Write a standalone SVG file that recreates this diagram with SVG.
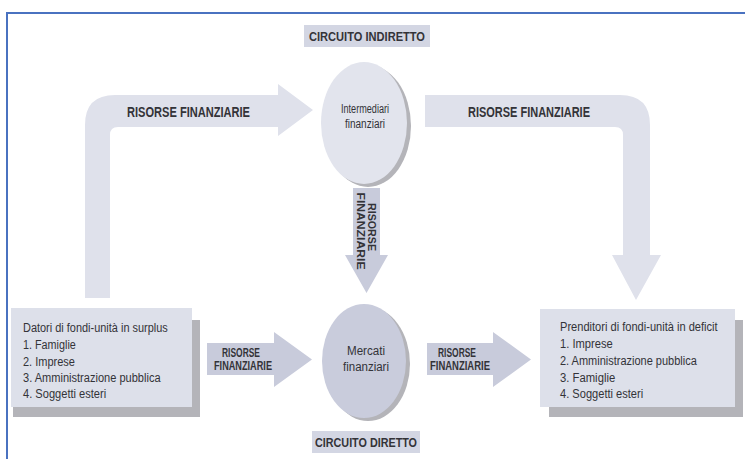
<svg xmlns="http://www.w3.org/2000/svg" width="745" height="459" viewBox="0 0 745 459">
<style>
.bg{fill:#ffffff}
.frame{fill:none;stroke:#4a72c0;stroke-width:2}
.loop{fill:#dfe1eb}
.mid{fill:#c8cbdb}
.box{fill:#dde0ea}
.shadow{fill:#b4b4b9}
.lbl{fill:#d3d6e3}
.t{font-family:"Liberation Sans Narrow","Liberation Sans",Arial,sans-serif;fill:#333338}
.b{font-weight:bold}
</style>
<rect class="bg" x="0" y="0" width="745" height="459"/>
<path class="frame" d="M7,459 V13 H745"/>

<g id="connectors">
  <g id="loop-left">
    <path class="loop" d="M85,298 V125 Q85,95 115,95 H278 V84 L313,110 L278,136 V127 H118 Q110,127 110,135 V298 Z"/>
    <text class="t b" x="127" y="117" font-size="14" textLength="123" lengthAdjust="spacingAndGlyphs">RISORSE FINANZIARIE</text>
  </g>
  <g id="loop-right">
    <path class="loop" d="M425,95 H620 Q650,95 650,125 V255 H661 L636,300 L612,255 H623 V135 Q623,127 615,127 H425 Z"/>
    <text class="t b" x="468" y="117" font-size="14" textLength="122" lengthAdjust="spacingAndGlyphs">RISORSE FINANZIARIE</text>
  </g>
  <g id="arrow-down">
    <path class="mid" d="M353,188 H380 V255 H388 L366.5,293 L345,255 H353 Z"/>
    <text class="t b" font-size="11" text-anchor="middle" transform="translate(368,227) rotate(90)" textLength="48" lengthAdjust="spacingAndGlyphs">RISORSE</text>
    <text class="t b" font-size="11" text-anchor="middle" transform="translate(357,231) rotate(90)" textLength="77" lengthAdjust="spacingAndGlyphs">FINANZIARIE</text>
  </g>
  <g id="arrow-left-mid">
    <path class="mid" d="M207,343 H274 V332 L312,359.5 L274,387 V375 H207 Z"/>
    <text class="t b" x="241" y="357" font-size="12" text-anchor="middle" textLength="38" lengthAdjust="spacingAndGlyphs">RISORSE</text>
    <text class="t b" x="243" y="370" font-size="12" text-anchor="middle" textLength="58" lengthAdjust="spacingAndGlyphs">FINANZIARIE</text>
  </g>
  <g id="arrow-right-mid">
    <path class="mid" d="M427,343 H493 V332 L531,359.5 L493,387 V375 H427 Z"/>
    <text class="t b" x="457" y="357" font-size="12" text-anchor="middle" textLength="38" lengthAdjust="spacingAndGlyphs">RISORSE</text>
    <text class="t b" x="460" y="370" font-size="12" text-anchor="middle" textLength="60" lengthAdjust="spacingAndGlyphs">FINANZIARIE</text>
  </g>
</g>

<g id="label-indiretto">
  <rect class="lbl" x="304" y="25" width="126" height="22"/>
  <text class="t b" x="367" y="41" font-size="13" text-anchor="middle" textLength="116" lengthAdjust="spacingAndGlyphs">CIRCUITO INDIRETTO</text>
</g>

<g id="intermediari">
  <ellipse class="shadow" cx="368" cy="126" rx="43" ry="61"/>
  <ellipse cx="364" cy="123" rx="43" ry="61" fill="#e2e4ed"/>
  <text class="t" x="365" y="113" font-size="12" text-anchor="middle" textLength="48" lengthAdjust="spacingAndGlyphs">Intermediari</text>
  <text class="t" x="365" y="128" font-size="12" text-anchor="middle" textLength="40" lengthAdjust="spacingAndGlyphs">finanziari</text>
</g>

<g id="mercati">
  <ellipse class="shadow" cx="368" cy="364" rx="42" ry="57"/>
  <ellipse cx="364" cy="361" rx="42" ry="57" fill="#c9ccdc"/>
  <text class="t" x="366" y="355" font-size="12" text-anchor="middle" textLength="38" lengthAdjust="spacingAndGlyphs">Mercati</text>
  <text class="t" x="366" y="371" font-size="12" text-anchor="middle" textLength="46" lengthAdjust="spacingAndGlyphs">finanziari</text>
</g>

<g id="label-diretto">
  <rect class="lbl" x="312" y="431" width="108" height="22"/>
  <text class="t b" x="366" y="447" font-size="13" text-anchor="middle" textLength="102" lengthAdjust="spacingAndGlyphs">CIRCUITO DIRETTO</text>
</g>

<g id="datori">
  <rect class="shadow" x="13" y="320" width="187" height="97"/>
  <rect class="box" x="11" y="308" width="181" height="99"/>
  <g transform="translate(23,0) scale(0.8,1)">
    <text class="t" x="0" y="332" font-size="13.5" textLength="181" lengthAdjust="spacingAndGlyphs">Datori di fondi-unità in surplus</text>
    <text class="t" x="0" y="349" font-size="13.5" textLength="66" lengthAdjust="spacingAndGlyphs">1. Famiglie</text>
    <text class="t" x="0" y="366" font-size="13.5" textLength="65" lengthAdjust="spacingAndGlyphs">2. Imprese</text>
    <text class="t" x="0" y="382" font-size="13.5" textLength="172" lengthAdjust="spacingAndGlyphs">3. Amministrazione pubblica</text>
    <text class="t" x="0" y="398" font-size="13.5" textLength="104" lengthAdjust="spacingAndGlyphs">4. Soggetti esteri</text>
  </g>
</g>

<g id="prenditori">
  <rect class="shadow" x="549" y="320" width="194" height="97"/>
  <rect class="box" x="540" y="309" width="195" height="98"/>
  <g transform="translate(560,0) scale(0.8,1)">
    <text class="t" x="0" y="331" font-size="13.5" textLength="197" lengthAdjust="spacingAndGlyphs">Prenditori di fondi-unità in deficit</text>
    <text class="t" x="0" y="348" font-size="13.5" textLength="66" lengthAdjust="spacingAndGlyphs">1. Imprese</text>
    <text class="t" x="0" y="365" font-size="13.5" textLength="171" lengthAdjust="spacingAndGlyphs">2. Amministrazione pubblica</text>
    <text class="t" x="0" y="382" font-size="13.5" textLength="69" lengthAdjust="spacingAndGlyphs">3. Famiglie</text>
    <text class="t" x="0" y="398" font-size="13.5" textLength="104" lengthAdjust="spacingAndGlyphs">4. Soggetti esteri</text>
  </g>
</g>
</svg>
